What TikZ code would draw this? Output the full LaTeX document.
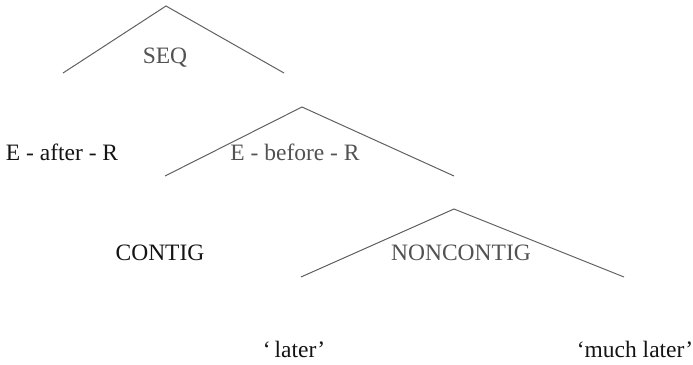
\documentclass[tikz,border=0pt]{standalone}
\usepackage{fontspec}
\setmainfont{Liberation Serif}
\begin{document}
\begin{tikzpicture}[x=1pt,y=-1pt,
  lbl/.style={anchor=base,inner sep=0pt,font=\fontsize{23.5}{28}\selectfont},
  graylbl/.style={lbl,text=black!68},
  blacklbl/.style={lbl,text=black!92},
  branch/.style={draw=black!62,line width=1pt}]
\useasboundingbox[fill=white] (0,0) rectangle (693,364);
% triangle 1
\coordinate (a1) at (166,6);
\coordinate (l1) at (63,73);
\coordinate (r1) at (284,73);
% triangle 2
\coordinate (a2) at (302,107);
\coordinate (l2) at (165,176);
\coordinate (r2) at (454,176);
% triangle 3
\coordinate (a3) at (454,209);
\coordinate (l3) at (301,277);
\coordinate (r3) at (624,277);
\draw[branch] (l1) -- (a1) -- (r1);
\draw[branch] (l2) -- (a2) -- (r2);
\draw[branch] (l3) -- (a3) -- (r3);
\node[graylbl] (seq) at (165,63) {SEQ};
\node[blacklbl] (after) at (62,160) {E - after - R};
\node[graylbl] (before) at (295,160) {E - before - R};
\node[blacklbl] (contig) at (160,260) {CONTIG};
\node[graylbl] (noncontig) at (461,260) {NONCONTIG};
\node[blacklbl] (later) at (294,357) {‘\,later’};
\node[blacklbl] (muchlater) at (635,357) {‘much later’};
\end{tikzpicture}
\end{document}
